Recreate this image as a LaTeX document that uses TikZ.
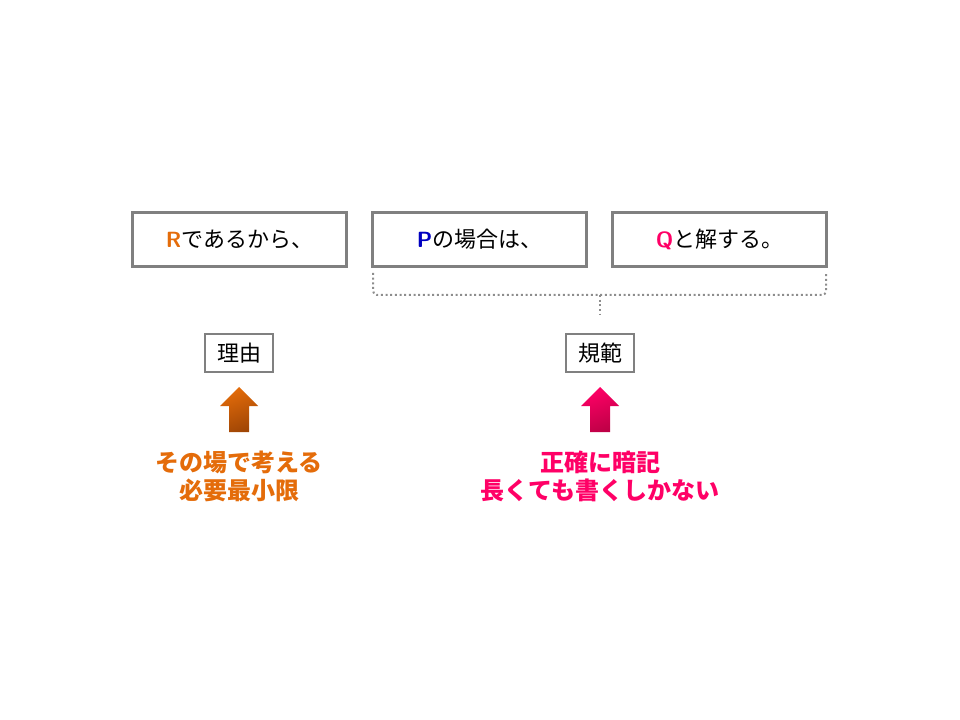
\documentclass[tikz,border=0pt]{standalone}
\usepackage{fontspec}
\setmainfont{Liberation Sans}
\newfontfamily\cjk{Noto Sans CJK JP}
\usetikzlibrary{calc}
\definecolor{boxgray}{RGB}{128,128,128}
\definecolor{rorange}{RGB}{228,108,10}
\definecolor{pblue}{RGB}{0,0,192}
\definecolor{qpink}{RGB}{255,0,102}
\definecolor{orangedark}{RGB}{160,70,5}
\definecolor{pinkdark}{RGB}{190,0,70}
\begin{document}
\begin{tikzpicture}[x=0.75pt,y=-0.75pt,
  mainbox/.style={draw=boxgray,line width=2.2pt,minimum width=160pt,minimum height=40pt,inner sep=0pt,font=\fontsize{16.5}{19}\selectfont\cjk},
  labelbox/.style={draw=boxgray,line width=0.8pt,minimum width=51pt,minimum height=28.5pt,inner sep=0pt,font=\fontsize{16.5}{19}\selectfont\cjk},
  notetext/.style={align=center,font=\fontsize{18}{21}\selectfont\cjk\bfseries},
  bracketline/.style={draw=boxgray!90,line width=1.5pt,dotted}]
\useasboundingbox (0,0) rectangle (960,720);
\node[mainbox] (b1) at (239.5,239.5) {{\color{rorange}\sffamily\bfseries R}であるから、};
\node[mainbox] (b2) at (479.5,239.5) {{\color{pblue}\sffamily\bfseries P}の場合は、};
\node[mainbox] (b3) at (719.5,239.5) {{\color{qpink}\sffamily\bfseries Q}と解する。};
% bracket
\coordinate (bl) at (373,273);
\coordinate (br) at (826,273);
\coordinate (bm) at (600,295);
\coordinate (bt) at (600,314);
\draw[bracketline,rounded corners=3pt] (bl) |- (bm) -| (br);
\draw[bracketline] (bm) -- (bt);
\node[labelbox] (l1) at (239,353) {理由};
\node[labelbox] (l2) at (600,353) {規範};
% arrows
\shade[top color=rorange,bottom color=orangedark,shading angle=20]
  (220,406) -- (239,387) -- (258,406) -- (249,406) -- (249,432) -- (229,432) -- (229,406) -- cycle;
\shade[top color=qpink,bottom color=pinkdark,shading angle=20]
  (581,406) -- (600,387) -- (619,406) -- (610,406) -- (610,432) -- (590,432) -- (590,406) -- cycle;
\node[notetext,text=rorange] (n1) at (239,476) {その場で考える\\必要最小限};
\node[notetext,text=qpink] (n2) at (600,476) {正確に暗記\\長くても書くしかない};
\end{tikzpicture}
\end{document}
